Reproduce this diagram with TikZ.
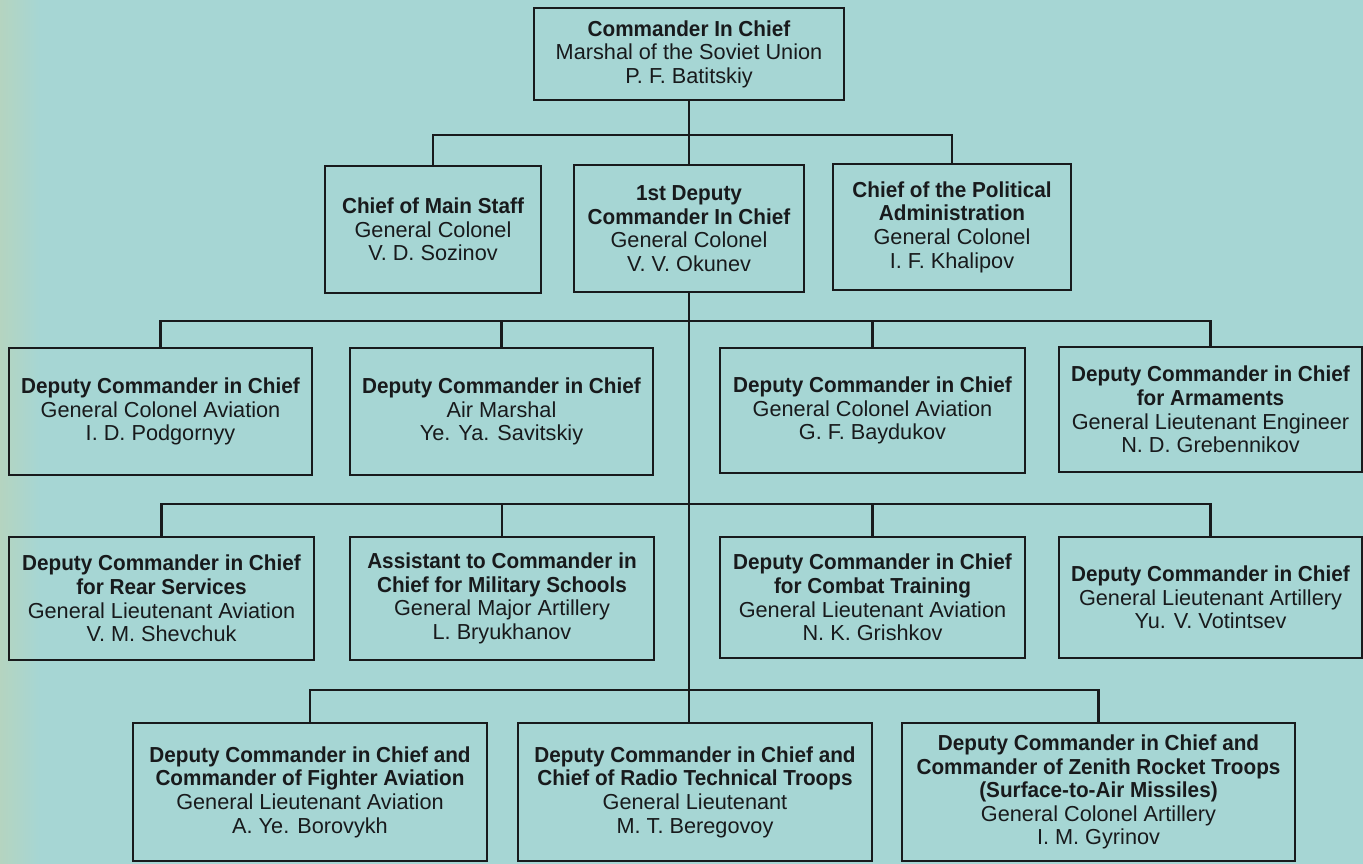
\documentclass[tikz,border=0pt]{standalone}
\usepackage{fontspec}
\setmainfont{Liberation Sans}[BoldFeatures={FakeStretch=0.955}]
\usepackage{xcolor}
\definecolor{hintergrund}{RGB}{166,214,212}
\definecolor{rand}{RGB}{182,212,190}
\definecolor{tinte}{RGB}{24,26,28}

\begin{document}
\begin{tikzpicture}[x=0.5pt, y=-0.5pt,
    kasten/.style={draw=tinte, line width=1.25pt, align=center, inner sep=0pt,
      text=tinte, font=\fontsize{10.85}{11.8}\selectfont},
    linie/.style={draw=tinte, line width=1.25pt}]
    % Hintergrund
    \useasboundingbox (0,0) rectangle (1363,863);
    \fill[hintergrund] (-4,-4) rectangle (1367,867);
    \shade[left color=rand, right color=hintergrund] (-4,-4) rectangle (40,867);

    % Spitze
    \node[kasten, minimum width=155pt, minimum height=46pt] (chef) at (689,54)
      {\textbf{Commander In Chief}\\Marshal of the Soviet Union\\P. F. Batitskiy};

    % Erste Ebene
    \node[kasten, minimum width=108pt, minimum height=63.5pt] (stab) at (433,229.5)
      {\textbf{Chief of Main Staff}\\General Colonel\\V. D. Sozinov};
    \node[kasten, minimum width=115pt, minimum height=63.5pt] (erster) at (689,228.5)
      {\textbf{1st Deputy}\\\textbf{Commander In Chief}\\General Colonel\\V. V. Okunev};
    \node[kasten, minimum width=119pt, minimum height=63pt] (polit) at (952,227)
      {\textbf{Chief of the Political}\\\textbf{Administration}\\General Colonel\\I. F. Khalipov};

    % Zweite Ebene
    \node[kasten, minimum width=151.5pt, minimum height=63.5pt] (d1) at (160.5,411.5)
      {\textbf{Deputy Commander in Chief}\\General Colonel Aviation\\I. D. Podgornyy};
    \node[kasten, minimum width=151.5pt, minimum height=63.5pt] (d2) at (501.5,411.5)
      {\textbf{Deputy Commander in Chief}\\Air Marshal\\Ye. Ya. Savitskiy};
    \node[kasten, minimum width=152.5pt, minimum height=62.5pt] (d3) at (872.5,410.5)
      {\textbf{Deputy Commander in Chief}\\General Colonel Aviation\\G. F. Baydukov};
    \node[kasten, minimum width=151.5pt, minimum height=62.5pt] (d4) at (1210.5,409.5)
      {\textbf{Deputy Commander in Chief}\\\textbf{for Armaments}\\General Lieutenant Engineer\\N. D. Grebennikov};

    % Dritte Ebene
    \node[kasten, minimum width=152.5pt, minimum height=61.5pt] (r1) at (161.5,598.5)
      {\textbf{Deputy Commander in Chief}\\\textbf{for Rear Services}\\General Lieutenant Aviation\\V. M. Shevchuk};
    \node[kasten, minimum width=152pt, minimum height=61.5pt] (r2) at (502,598.5)
      {\textbf{Assistant to Commander in}\\\textbf{Chief for Military Schools}\\General Major Artillery\\L. Bryukhanov};
    \node[kasten, minimum width=152.5pt, minimum height=60.5pt] (r3) at (872.5,597.5)
      {\textbf{Deputy Commander in Chief}\\\textbf{for Combat Training}\\General Lieutenant Aviation\\N. K. Grishkov};
    \node[kasten, minimum width=151.5pt, minimum height=60.5pt] (r4) at (1210.5,597.5)
      {\textbf{Deputy Commander in Chief}\\General Lieutenant Artillery\\Yu. V. Votintsev};

    % Vierte Ebene
    \node[kasten, minimum width=177pt, minimum height=69pt] (u1) at (310,792)
      {\textbf{Deputy Commander in Chief and}\\\textbf{Commander of Fighter Aviation}\\General Lieutenant Aviation\\A. Ye. Borovykh};
    \node[kasten, minimum width=177pt, minimum height=69pt] (u2) at (695,792)
      {\textbf{Deputy Commander in Chief and}\\\textbf{Chief of Radio Technical Troops}\\General Lieutenant\\M. T. Beregovoy};
    \node[kasten, minimum width=196.5pt, minimum height=69pt] (u3) at (1098.5,792)
      {\textbf{Deputy Commander in Chief and}\\\textbf{Commander of Zenith Rocket Troops}\\\textbf{(Surface-to-Air Missiles)}\\General Colonel Artillery\\I. M. Gyrinov};

    % Verbindungslinien
    \coordinate (b1) at (689,135);
    \coordinate (b2) at (689,321);
    \coordinate (b3) at (689,504);
    \coordinate (b4) at (689,690);

    \draw[linie] (chef.south) -- (erster.north);
    \draw[linie] (stab.north) |- (b1) -| (polit.north);
    \draw[linie] (erster.south) -- (erster.south |- u2.north);

    \draw[linie] (d1.north) |- (b2) -| (d4.north);
    \draw[linie] (d2.north) -- (d2.north |- b2);
    \draw[linie] (d3.north) -- (d3.north |- b2);

    \draw[linie] (r1.north) |- (b3) -| (r4.north);
    \draw[linie] (r2.north) -- (r2.north |- b3);
    \draw[linie] (r3.north) -- (r3.north |- b3);

    \draw[linie] (u1.north) |- (b4) -| (u3.north);
\end{tikzpicture}
\end{document}
